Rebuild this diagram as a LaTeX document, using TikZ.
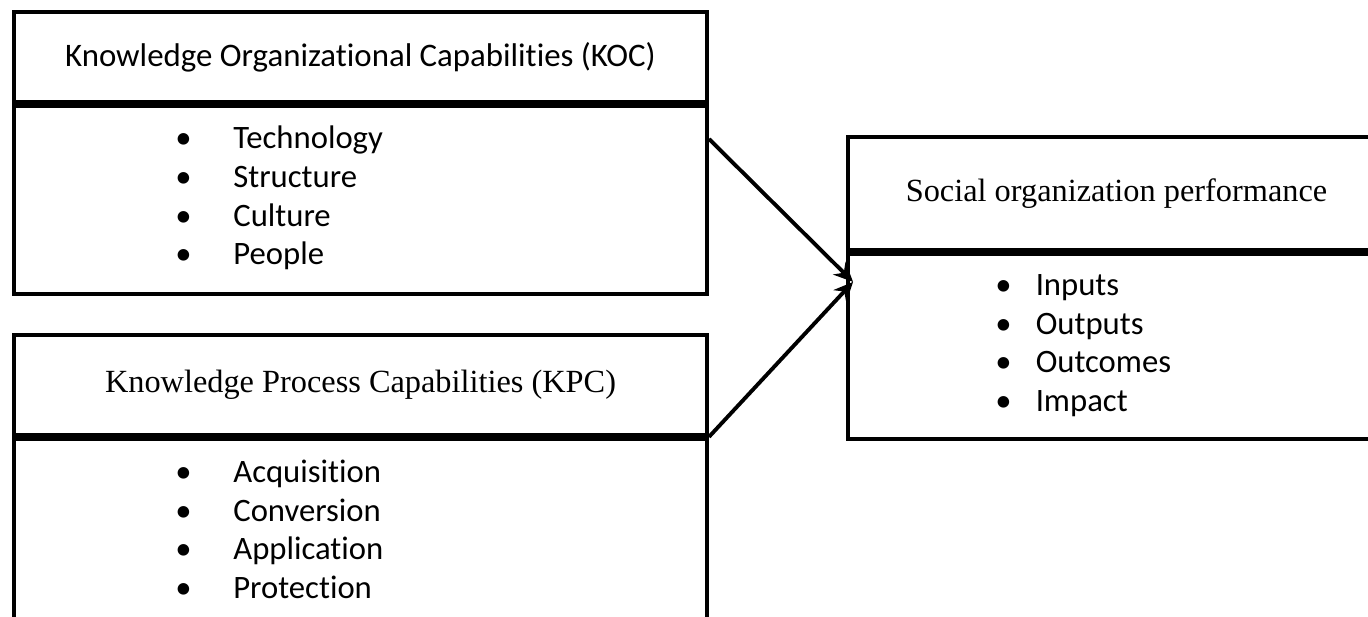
\documentclass[tikz,border=0pt]{standalone}
\usepackage{fontspec}
\setmainfont{Liberation Serif}
\newfontfamily\calibri[Ligatures=NoCommon]{Carlito}
\usetikzlibrary{positioning, arrows.meta}
\tikzstyle{box} = [draw, line width=2.2pt, inner sep=0pt, font=\fontsize{18.4}{22}\selectfont]
\tikzstyle{list} = [align=left, anchor=west, inner sep=0pt, font=\calibri\fontsize{18.6}{22}\selectfont]
\tikzstyle{arrow} = [line width=2.2pt, -{Stealth[length=11pt,width=10pt]}]
\newcommand{\bul}[2][33pt]{\makebox[#1][l]{\textbullet}#2}

\begin{document}
\begin{tikzpicture}
        \useasboundingbox (0,0) rectangle (27.36,12.32);
        \clip (0,0) rectangle (27.36,12.32);
        %KOC
        \node[box, minimum width=13.86cm, minimum height=1.8cm, font=\calibri\fontsize{18.7}{22}\selectfont] (koc) at (7.21,11.18) {Knowledge Organizational Capabilities (KOC)};
        \node[box, minimum width=13.86cm, minimum height=3.76cm, below=0pt of koc] (kocbody) {};
        \node[list] (koclist) at (3.5,8.36) {\bul{Technology}\\ \bul{Structure}\\ \bul{Culture}\\ \bul{People}};
        %KPC
        \node[box, minimum width=13.86cm, minimum height=2cm] (kpc) at (7.21,4.62) {Knowledge Process Capabilities (KPC)};
        \node[box, minimum width=13.86cm, minimum height=4.1cm, below=0pt of kpc] (kpcbody) {};
        \node[list] (kpclist) at (3.5,1.73) {\bul{Acquisition}\\ \bul{Conversion}\\ \bul{Application}\\ \bul{Protection}};
        %performance
        \node[box, minimum width=10.74cm, minimum height=2.26cm] (sop) at (22.33,8.45) {Social organization performance};
        \node[box, minimum width=10.74cm, minimum height=3.7cm, below=0pt of sop] (sopbody) {};
        \node[list] (soplist) at (19.9,5.41) {\bul[23pt]{Inputs}\\ \bul[23pt]{Outputs}\\ \bul[23pt]{Outcomes}\\ \bul[23pt]{Impact}};
        %arrows
        \coordinate (in) at ([xshift=0.14cm,yshift=-0.6cm]sopbody.north west);
        \draw[arrow] ([yshift=-0.7cm]kocbody.north east) -- (in);
        \draw[arrow] (kpc.south east) -- (in);
\end{tikzpicture}
\end{document}
